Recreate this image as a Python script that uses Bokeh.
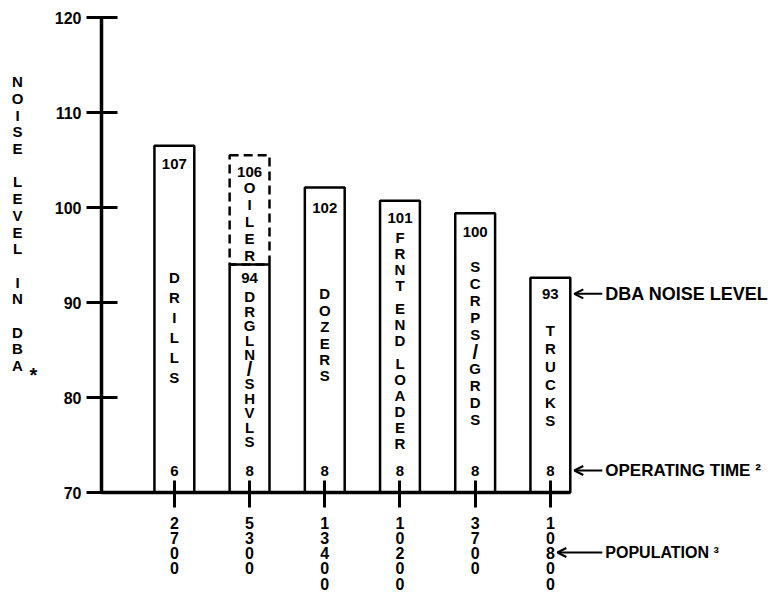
from bokeh.plotting import figure
from bokeh.models import ColumnDataSource, FixedTicker, Arrow, OpenHead
from bokeh.core.properties import value
from bokeh.embed import file_html
from bokeh.resources import INLINE

# ---------------- data ----------------
categories = ["DRILLS", "DRGLN/SHVLS", "DOZERS", "FRNT END LOADER", "SCRPS/GRDS", "TRUCKS"]
noise_dba = [107, 94, 102, 101, 100, 93]            # printed DBA values
bar_top = [106.5, 94.0, 102.1, 100.7, 99.4, 92.6]   # drawn bar heights
operating_time = [6, 8, 8, 8, 8, 8]
population = ["2700", "5300", "13400", "10200", "3700", "10800"]
oiler_name = "OILER"
oiler_dba = 106
oiler_top = 105.5
oiler_on = 1          # index of the bar the oiler box sits on
y_ticks = [70, 80, 90, 100, 110, 120]
axis_title = "NOISE LEVEL IN DBA"
notes = ["DBA NOISE LEVEL", "OPERATING TIME \u00b2", "POPULATION \u00b3"]

# ---------------- layout / style ----------------
W, H = 776, 598
PX_X, PX_Y = 75.2, 9.5            # pixels per data unit
A = -0.969                        # data x of the vertical axis
AX_CANVAS, BASE_CANVAS = 101, 492 # canvas position of the axes
Y0, Y1 = 70, 120
XS = A - AX_CANVAS / PX_X
XE = XS + W / PX_X
YS = Y0 - (H - BASE_CANVAS) / PX_Y
YE = Y0 + BASE_CANVAS / PX_Y
BAR_W = 0.53
FONT = "Liberation Sans"
name_center = [87.4, 83.0, 86.6, 86.0, 85.7, 82.3]
name_step_px = [20, 14.5, 16.4, 16, 17, 18]
value_gap_px = [18, 13, 20, 17, 19, 16]
oiler_center = 98.5
oiler_step_px = 17
oiler_gap_px = 17
time_gap_px = 22

xs = list(range(len(categories)))
last = xs[-1]
redge = last + BAR_W / 2

p = figure(width=W, height=H, x_range=(XS, XE), y_range=(YS, YE),
           output_backend="svg", toolbar_location=None, min_border=0)
p.grid.visible = False
p.outline_line_color = None
p.background_fill_color = "white"
p.border_fill_color = "white"

# y axis pinned at x = A
ya = p.yaxis[0]
ya.fixed_location = A
ya.bounds = (Y0, Y1)
ya.ticker = FixedTicker(ticks=y_ticks)
ya.major_tick_in = 16
ya.major_tick_out = 15
ya.major_tick_line_width = 3
ya.axis_line_width = 3.5
ya.minor_tick_line_color = None
ya.major_label_standoff = 5
ya.major_label_text_font = FONT
ya.major_label_text_font_style = "bold"
ya.major_label_text_font_size = "16px"
ya.major_label_text_color = "black"

# x axis pinned at y = 70
xa = p.xaxis[0]
xa.fixed_location = Y0
xa.bounds = (A, redge)
xa.ticker = FixedTicker(ticks=xs)
xa.major_label_overrides = {i: "\n".join(pop) for i, pop in zip(xs, population)}
xa.major_tick_in = 12
xa.major_tick_out = 15
xa.major_tick_line_width = 3
xa.axis_line_width = 3.5
xa.minor_tick_line_color = None
xa.major_label_standoff = 7
xa.major_label_text_font = FONT
xa.major_label_text_font_style = "bold"
xa.major_label_text_font_size = "16px"
xa.major_label_text_line_height = 0.9
xa.major_label_text_color = "black"

# bars
src = ColumnDataSource(dict(
    left=[x - BAR_W / 2 for x in xs], right=[x + BAR_W / 2 for x in xs],
    top=bar_top, bottom=[Y0] * len(xs)))

p.quad(left=[oiler_on - BAR_W / 2], right=[oiler_on + BAR_W / 2],
       bottom=[bar_top[oiler_on]], top=[oiler_top],
       fill_color=None, line_color="black", line_width=2.5, line_dash="9 5")
p.quad(left="left", right="right", top="top", bottom="bottom", source=src,
       fill_color=None, line_color="black", line_width=2.5)

# value labels + operating time labels
vx = xs + [oiler_on]
vy = [t - g / PX_Y for t, g in zip(bar_top, value_gap_px)] + [oiler_top - oiler_gap_px / PX_Y]
vt = [str(v) for v in noise_dba] + [str(oiler_dba)]
p.text(x=vx, y=vy, text=vt, text_align="center", text_baseline="middle",
       text_font=value(FONT), text_font_style="bold", text_font_size="15px", text_color="black")
ty = Y0 + time_gap_px / PX_Y
p.text(x=xs, y=[ty] * len(xs), text=[str(t) for t in operating_time],
       text_align="center", text_baseline="middle",
       text_font=value(FONT), text_font_style="bold", text_font_size="15px", text_color="black")


def stack(word, center, step_px, space_factor):
    pos, cur, out = [], 0.0, []
    for ch in word:
        if ch == " ":
            cur += step_px * space_factor
            continue
        if pos:
            cur += step_px
        pos.append(cur)
        out.append(ch)
    mid = (pos[0] + pos[-1]) / 2
    return out, [center - (q - mid) / PX_Y for q in pos]


cx, cy, ct, cs = [], [], [], []
for x, name, c, st in zip(xs, categories, name_center, name_step_px):
    chars, ys = stack(name, c, st, 0.45)
    for ch, yy in zip(chars, ys):
        cx.append(x); cy.append(yy); ct.append(ch)
        cs.append("20px" if ch == "/" else "15px")
chars, ys = stack(oiler_name, oiler_center, oiler_step_px, 0.45)
for ch, yy in zip(chars, ys):
    cx.append(oiler_on); cy.append(yy); ct.append(ch); cs.append("15px")

# stacked y-axis title
title_x = A - 84 / PX_X
chars, ys = stack(axis_title, 98.3, 16.7, 1.0)
for ch, yy in zip(chars, ys):
    cx.append(title_x); cy.append(yy); ct.append(ch); cs.append("15px")
p.text(x=cx, y=cy, text=ct, text_font_size=cs, text_align="center", text_baseline="middle",
       text_font=value(FONT), text_font_style="bold", text_color="black")
p.text(x=[title_x + 16 / PX_X], y=[ys[-1] - 9 / PX_Y], text=["*"],
       text_align="center", text_baseline="middle",
       text_font=value(FONT), text_font_style="bold", text_font_size="20px", text_color="black")

# right-hand annotations with arrows
note_y = [vy[last], ty, Y0 - 60 / PX_Y]
note_tip = [redge + 4 / PX_X, redge + 4 / PX_X, last + 7 / PX_X]
note_size = ["18px", "17px", "16px"]
for txt, yy, tip, fs in zip(notes, note_y, note_tip, note_size):
    p.add_layout(Arrow(end=OpenHead(size=9, line_width=2, line_color="black"),
                       x_start=redge + 32 / PX_X, y_start=yy, x_end=tip, y_end=yy,
                       line_width=2, line_color="black"))
    p.text(x=[redge + 35 / PX_X], y=[yy], text=[txt], text_align="left",
           text_baseline="middle", text_font=value(FONT), text_font_style="bold",
           text_font_size=fs, text_color="black")

open("out.html", "w").write(file_html(p, INLINE))
